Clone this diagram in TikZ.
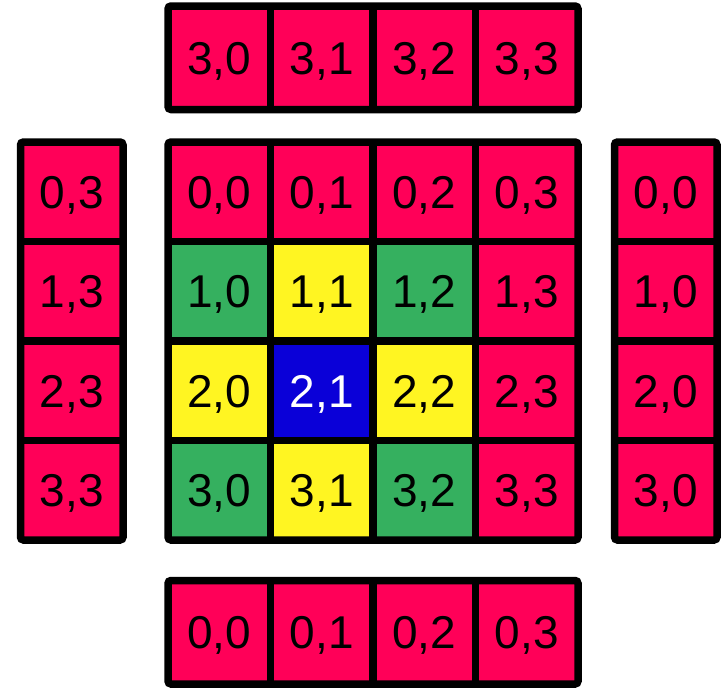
\documentclass[tikz,border=0pt]{standalone}
\usepackage{fontspec}
\setmainfont{Liberation Sans}
\definecolor{cpink}{HTML}{FF0058}
\definecolor{cgreen}{HTML}{35B05F}
\definecolor{cyellow}{HTML}{FFF522}
\definecolor{cblue}{HTML}{0A00D8}
\begin{document}
\begin{tikzpicture}[x=1pt,y=-1pt,
  cell/.style={minimum width=102.5pt, minimum height=99.5pt, inner sep=0pt, outer sep=0pt,
    text height=33pt, text depth=0pt,
    font=\fontsize{46}{50}\selectfont, text=black, fill=cpink},
  tall/.style={minimum height=103.5pt},
  border/.style={line width=7.5pt, draw=black},
  outer/.style={border, rounded corners=3pt}]
\useasboundingbox (0,0) rectangle (725,688);
% main grid
\foreach \i/\rowy in {0/191.75,1/291.25,2/390.75,3/490.25}{
  \foreach \j/\colx in {0/219.25,1/321.75,2/424.25,3/526.75}{
    \node[cell] (m-\i-\j) at (\colx,\rowy) {\i,\j};
  }
}
\node[cell,fill=cgreen] at (m-1-0) {1,0};
\node[cell,fill=cyellow] at (m-1-1) {1,1};
\node[cell,fill=cgreen] at (m-1-2) {1,2};
\node[cell,fill=cyellow] at (m-2-0) {2,0};
\node[cell,fill=cblue,text=white] at (m-2-1) {2,1};
\node[cell,fill=cyellow] at (m-2-2) {2,2};
\node[cell,fill=cgreen] at (m-3-0) {3,0};
\node[cell,fill=cyellow] at (m-3-1) {3,1};
\node[cell,fill=cgreen] at (m-3-2) {3,2};
\foreach \j in {0,1,2}{
  \draw[border] (m-0-\j.north east) -- (m-3-\j.south east);
  \draw[border] (m-\j-0.south west) -- (m-\j-3.south east);
}
\draw[outer] (m-0-0.north west) rectangle (m-3-3.south east);
% top row
\foreach \j/\colx in {0/219.25,1/321.75,2/424.25,3/526.75}{
  \node[cell,tall] (t-\j) at (\colx,57.75) {3,\j};
  \node[cell,tall] (b-\j) at (\colx,632.25) {0,\j};
}
\foreach \j in {0,1,2}{
  \draw[border] (t-\j.north east) -- (t-\j.south east);
  \draw[border] (b-\j.north east) -- (b-\j.south east);
}
\draw[outer] (t-0.north west) rectangle (t-3.south east);
\draw[outer] (b-0.north west) rectangle (b-3.south east);
% side columns
\foreach \i/\rowy in {0/191.75,1/291.25,2/390.75,3/490.25}{
  \node[cell] (l-\i) at (71.75,\rowy) {\i,3};
  \node[cell] (r-\i) at (665.75,\rowy) {\i,0};
}
\foreach \i in {0,1,2}{
  \draw[border] (l-\i.south west) -- (l-\i.south east);
  \draw[border] (r-\i.south west) -- (r-\i.south east);
}
\draw[outer] (l-0.north west) rectangle (l-3.south east);
\draw[outer] (r-0.north west) rectangle (r-3.south east);
\end{tikzpicture}
\end{document}
